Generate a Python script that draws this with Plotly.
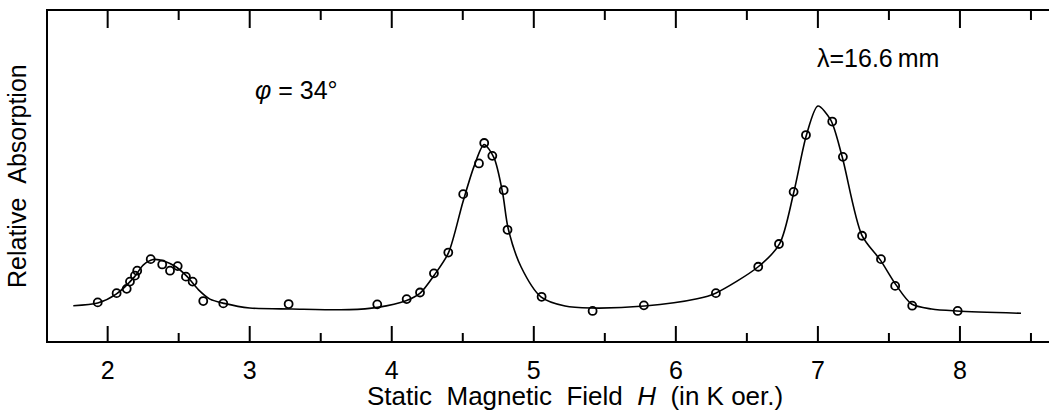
import plotly.graph_objects as go

# Measured data points (H in kOe, relative absorption, arbitrary units)
pts_h = [1.930, 2.063, 2.134, 2.157, 2.192, 2.208, 2.303, 2.384, 2.439, 2.493,
         2.551, 2.598, 2.673, 2.814, 3.274,
         3.898, 4.105, 4.199, 4.297, 4.398, 4.503, 4.614, 4.651, 4.708, 4.788,
         4.815, 5.055, 5.414, 5.775,
         6.282, 6.580, 6.726, 6.829, 6.916, 7.101, 7.176, 7.311, 7.444, 7.544,
         7.664, 7.984]
pts_a = [1.17, 1.45, 1.58, 1.80, 1.98, 2.13, 2.48, 2.32, 2.13, 2.27,
         1.95, 1.80, 1.21, 1.14, 1.12,
         1.11, 1.27, 1.47, 2.05, 2.68, 4.45, 5.38, 6.00, 5.61, 4.57,
         3.37, 1.34, 0.91, 1.08,
         1.45, 2.25, 2.94, 4.52, 6.24, 6.65, 5.58, 3.19, 2.48, 1.67,
         1.07, 0.91]

# Fitted curve
curve_h = [1.758, 1.93, 2.06, 2.19, 2.25, 2.32, 2.40, 2.48, 2.56, 2.64, 2.72, 2.82,
           3.0, 3.3, 3.7, 3.9, 4.1, 4.2, 4.3, 4.4, 4.5, 4.58, 4.65, 4.72, 4.78,
           4.82, 4.91, 5.05, 5.22, 5.4, 5.78, 6.15, 6.28, 6.58, 6.73, 6.83, 6.92,
           7.0, 7.09, 7.17, 7.31, 7.44, 7.55, 7.66, 7.8, 7.98, 8.43]
curve_a = [1.07, 1.15, 1.42, 1.95, 2.30, 2.47, 2.42, 2.25, 1.95, 1.55, 1.27, 1.14,
           1.00, 0.97, 0.95, 1.02, 1.22, 1.45, 2.00, 2.68, 4.20, 5.30, 5.95, 5.55, 4.50,
           3.40, 2.25, 1.34, 1.06, 1.00, 1.06, 1.28, 1.45, 2.25, 2.94, 4.50, 6.25,
           7.12, 6.70, 5.60, 3.20, 2.45, 1.70, 1.12, 0.97, 0.91, 0.84]

x_range = [1.580, 8.627]
y_range = [0, 10]
major_ticks = [2, 3, 4, 5, 6, 7, 8]
major_labels = ["2", "3", "4", "5", "6", "7", "8"]
minor_ticks = [2.5, 3.5, 4.5, 5.5, 6.5, 7.5, 8.5]

FONT = "Liberation Sans, Arial, sans-serif"

fig = go.Figure()
fig.add_trace(go.Scatter(x=curve_h, y=curve_a, mode="lines",
                         line=dict(color="black", width=1.6, shape="spline", smoothing=0.8),
                         hoverinfo="skip", showlegend=False))
fig.add_trace(go.Scatter(x=pts_h, y=pts_a, mode="markers",
                         marker=dict(symbol="circle-open", size=8, color="black",
                                     line=dict(width=1.8, color="black")),
                         showlegend=False))

# Inward-pointing frame ticks on bottom and top edges (x in data units, length in pixels)
tick_shapes = []
for t in major_ticks:
    tick_shapes.append(dict(type="line", xref="x", yref="paper", ysizemode="pixel",
                            yanchor=0, x0=t, x1=t, y0=0, y1=15,
                            line=dict(color="black", width=2), layer="above"))
    tick_shapes.append(dict(type="line", xref="x", yref="paper", ysizemode="pixel",
                            yanchor=1, x0=t, x1=t, y0=0, y1=-17,
                            line=dict(color="black", width=2), layer="above"))
for t in minor_ticks:
    tick_shapes.append(dict(type="line", xref="x", yref="paper", ysizemode="pixel",
                            yanchor=0, x0=t, x1=t, y0=0, y1=8,
                            line=dict(color="black", width=2), layer="above"))
    tick_shapes.append(dict(type="line", xref="x", yref="paper", ysizemode="pixel",
                            yanchor=1, x0=t, x1=t, y0=0, y1=-9,
                            line=dict(color="black", width=2), layer="above"))

fig.update_layout(
    width=1049, height=416,
    margin=dict(l=48, r=0, t=11, b=75),
    paper_bgcolor="white", plot_bgcolor="white",
    font=dict(family=FONT, color="black"),
    xaxis=dict(range=x_range, tickmode="array", tickvals=major_ticks, ticktext=major_labels,
               ticks="", ticklabelstandoff=6,
               showline=True, linewidth=2, linecolor="black", mirror=True,
               showgrid=False, zeroline=False,
               tickfont=dict(size=25, family=FONT, color="black")),
    yaxis=dict(range=y_range, showticklabels=False, ticks="",
               showline=True, linewidth=2, linecolor="black", mirror=False,
               showgrid=False, zeroline=False),
    shapes=tick_shapes,
    annotations=[
        dict(text="<i>φ</i> = 34°", xref="paper", yref="paper",
             x=(296 - 48) / 1001, y=(341 - 90) / 330, showarrow=False,
             font=dict(size=25, family=FONT), xanchor="center", yanchor="middle"),
        dict(text="λ=16.6\u2009mm", xref="paper", yref="paper",
             x=(878 - 48) / 1001, y=(341 - 58) / 330, showarrow=False,
             font=dict(size=25, family=FONT), xanchor="center", yanchor="middle"),
        dict(text="Static\u00a0\u00a0Magnetic\u00a0\u00a0Field\u00a0\u00a0<i>H</i>\u00a0\u00a0(in K oer.)",
             xref="paper", yref="paper",
             x=(575 - 48) / 1001, y=(341 - 396) / 330, showarrow=False,
             font=dict(size=26, family=FONT), xanchor="center", yanchor="middle"),
        dict(text="Relative\u00a0\u00a0Absorption", xref="paper", yref="paper",
             x=(17 - 48) / 1001, y=(341 - 176) / 330, showarrow=False, textangle=-90,
             font=dict(size=25, family=FONT), xanchor="center", yanchor="middle"),
    ],
)

fig.write_html("out.html")
